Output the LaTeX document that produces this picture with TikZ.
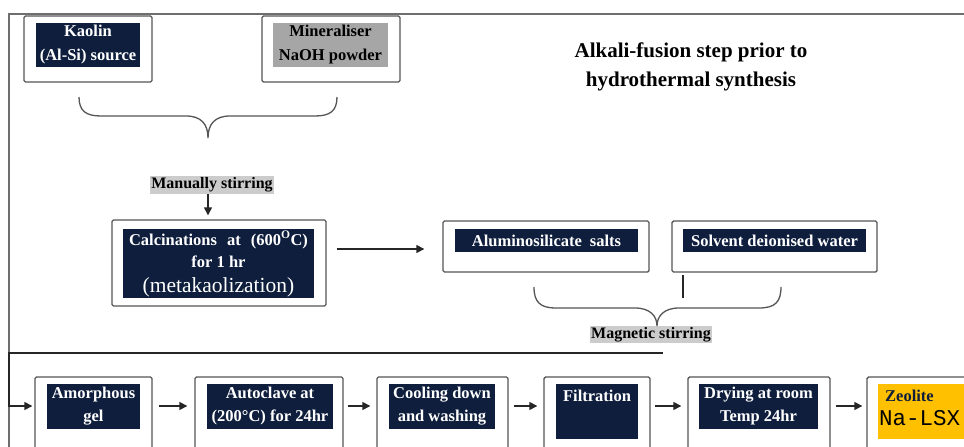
\documentclass[tikz,border=0pt]{standalone}
\usepackage{fontspec}
\setmainfont{Liberation Serif}
\newfontfamily\monofnt{Liberation Mono}
\usetikzlibrary{arrows.meta}
\definecolor{navy}{RGB}{14,30,60}
\definecolor{boxline}{RGB}{85,85,85}
\definecolor{framegray}{RGB}{110,110,110}
\definecolor{mingray}{RGB}{166,166,166}
\definecolor{hlgray}{RGB}{204,204,204}
\definecolor{zeoorange}{RGB}{255,192,0}
\tikzset{
  outerbox/.style={draw=boxline, line width=1.4pt, rounded corners=1.5pt, fill=white, inner sep=0pt},
  boxfont/.style={font=\bfseries\fontsize{16.5}{23}\selectfont},
  darkbox/.style={fill=navy, text=white, inner sep=0pt, align=center, boxfont},
  greybox/.style={fill=mingray, text=black, inner sep=0pt, align=center, boxfont},
  hl/.style={fill=hlgray, text=black, inner sep=1.5pt, font=\bfseries\fontsize{16}{18}\selectfont},
  flow/.style={draw=black!85, line width=1.4pt, -{Triangle[length=8pt,width=8pt]}},
  bracepath/.style={draw=boxline, line width=1.3pt},
  frameline/.style={draw=framegray, line width=1.4pt},
}
\begin{document}
\begin{tikzpicture}[x=1pt,y=-1pt]
\useasboundingbox (0,0) rectangle (964,447);
\clip (0,0) rectangle (964,447);
\fill[white] (0,0) rectangle (964,447);

% frame
\draw[frameline] (964,14) -- (9,14) -- (9,460);

% title
\node[align=center, font=\bfseries\fontsize{21}{29}\selectfont] (title) at (691,67) {Alkali-fusion step prior to\\hydrothermal synthesis};

% top boxes
\node[outerbox, minimum width=128pt, minimum height=66pt] (kaolinO) at (88,49) {};
\node[darkbox, minimum width=104pt, minimum height=44pt, font=\bfseries\fontsize{16.5}{24}\selectfont] (kaolinI) at (88,45) {Kaolin\\(Al-Si) source};
\node[outerbox, minimum width=138pt, minimum height=66pt] (minerO) at (331,49) {};
\node[greybox, minimum width=115pt, minimum height=44pt, font=\bfseries\fontsize{16.5}{24}\selectfont] (minerI) at (330.5,45) {Mineraliser\\NaOH powder};

% brace 1
\coordinate (b1tip) at (208,138);
\draw[bracepath] (79,97) .. controls (79,111) and (86,116) .. (101,116) -- (186,116)
  .. controls (201,116) and (208,124) .. (b1tip)
  .. controls (208,124) and (215,116) .. (230,116) -- (315,116)
  .. controls (330,116) and (337,111) .. (337,97);

% manually stirring
\node[hl] (ms) at (212,185) {Manually stirring};

% calcination box
\node[outerbox, minimum width=214pt, minimum height=86pt] (calcO) at (219,263) {};
\node[fill=navy, inner sep=0pt, minimum width=191pt, minimum height=69pt] (calcI) at (218.5,263.5) {};
\node[anchor=base, text=white, boxfont] (calcT1) at (218.5,245) {Calcinations\hspace{10pt}at\hspace{10pt}(600\textsuperscript{O}C)};
\node[anchor=base, text=white, boxfont] (calcT2) at (218.5,267) {for 1 hr};
\node[anchor=base, text=white, font=\fontsize{21.5}{24}\selectfont] (calcT3) at (218.5,292) {(metakaolization)};
\draw[flow, shorten >=4pt] (ms.south -| b1tip) -- (calcO.north -| b1tip);

% aluminosilicate and solvent
\node[outerbox, minimum width=206pt, minimum height=51pt] (alumO) at (546,246.5) {};
\node[darkbox, minimum width=183pt, minimum height=23pt] (alumI) at (546.5,240.5) {Aluminosilicate\hspace{8pt}salts};
\node[outerbox, minimum width=205pt, minimum height=51pt] (solvO) at (774.5,246.5) {};
\node[darkbox, minimum width=183pt, minimum height=23pt] (solvI) at (774.5,240.5) {Solvent deionised water};
\draw[flow, shorten <=10pt, shorten >=18pt] (calcO.east |- 0,249) -- (alumO.west |- 0,249);

\coordinate (solvstub) at (683,298);
\draw[draw=black!85, line width=1.8pt] (solvO.south -| solvstub) ++(0,2) -- (solvstub);

% magnetic stirring
\node[hl] (mag) at (651,334.5) {Magnetic stirring};
\coordinate (b2tip) at (657,326);
\draw[bracepath] (534,287) .. controls (534,302) and (540,308) .. (556,308) -- (635,308)
  .. controls (650,308) and (657,316) .. (b2tip)
  .. controls (657,316) and (664,308) .. (679,308) -- (759,308)
  .. controls (775,308) and (781,302) .. (781,287);

% bottom row
\node[outerbox, minimum width=117pt, minimum height=93pt] (amorO) at (93.5,423.5) {};
\node[darkbox, minimum width=93pt, minimum height=45pt] (amorI) at (93.5,406.5) {Amorphous\\gel};
\node[outerbox, minimum width=148pt, minimum height=93pt] (autoO) at (269,423.5) {};
\node[darkbox, minimum width=126pt, minimum height=45pt] (autoI) at (270,406.5) {Autoclave at\\(200°C) for 24hr};
\node[outerbox, minimum width=131pt, minimum height=93pt] (coolO) at (442.5,423.5) {};
\node[darkbox, minimum width=106pt, minimum height=45pt] (coolI) at (442,406.5) {Cooling down\\and washing};
\node[outerbox, minimum width=106pt, minimum height=93pt] (filtO) at (597,423.5) {};
\node[fill=navy, inner sep=0pt, minimum width=82pt, minimum height=55pt] (filtI) at (597,411.5) {};
\node[anchor=base, text=white, boxfont] (filtT) at (597,401) {Filtration};
\node[outerbox, minimum width=142pt, minimum height=93pt] (dryO) at (759,423.5) {};
\node[darkbox, minimum width=119pt, minimum height=45pt] (dryI) at (758.5,406.5) {Drying at room\\Temp 24hr};
\node[outerbox, minimum width=133pt, minimum height=93pt] (zeoO) at (933.5,423.5) {};
\node[fill=zeoorange, inner sep=0pt, minimum width=122pt, minimum height=55pt] (zeoI) at (939,411.5) {};
\node[anchor=base west, text=navy, boxfont, inner sep=0pt] (zeoT1) at (885,401) {Zeolite};
\node[anchor=base west, text=black, font=\monofnt\fontsize{22.5}{24}\selectfont, inner sep=0pt] (zeoT2) at (879,425) {Na-LSX};

% flow from magnetic stirring down to amorphous gel
\coordinate (magend) at (663,353);
\coordinate (corner1) at (9,353);
\coordinate (corner2) at (9,406);
\draw[flow, shorten >=2pt] (magend) -- (corner1) -- (corner2) -- (amorO.west |- corner2);

% bottom arrows
\draw[flow, shorten <=6pt, shorten >=7pt] (amorO.east |- corner2) -- (autoO.west |- corner2);
\draw[flow, shorten <=4pt, shorten >=6pt] (autoO.east |- corner2) -- (coolO.west |- corner2);
\draw[flow, shorten <=5pt, shorten >=6pt] (coolO.east |- corner2) -- (filtO.west |- corner2);
\draw[flow, shorten <=4pt, shorten >=6pt] (filtO.east |- corner2) -- (dryO.west |- corner2);
\draw[flow, shorten <=5pt, shorten >=4pt] (dryO.east |- corner2) -- (zeoO.west |- corner2);
\end{tikzpicture}
\end{document}
